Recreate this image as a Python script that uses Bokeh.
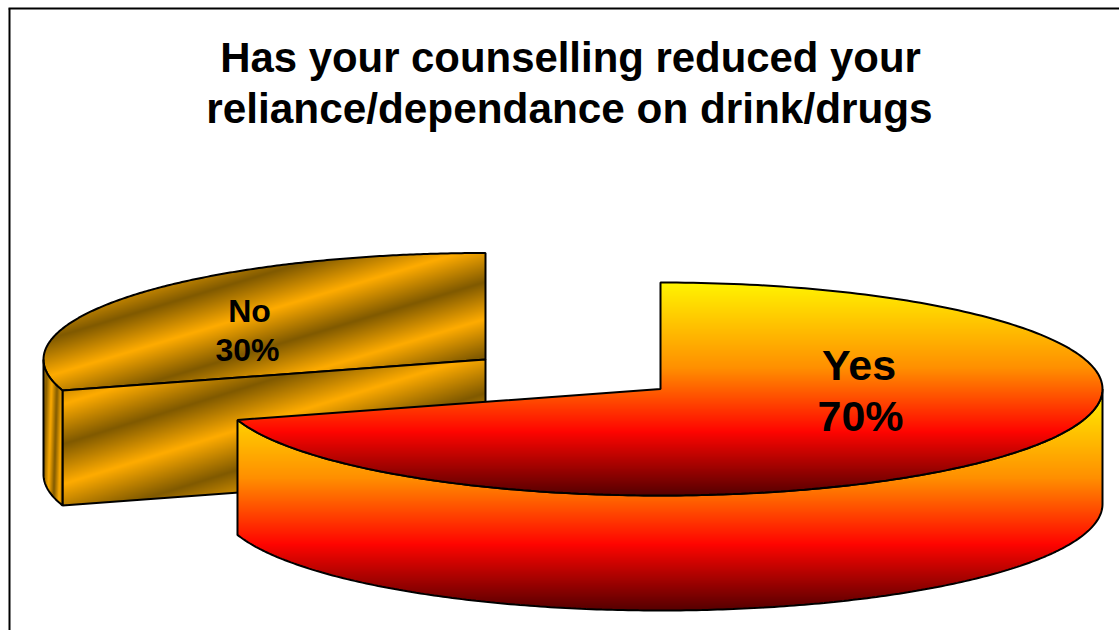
import numpy as np
from bokeh.plotting import figure
from bokeh.models import Range1d
from bokeh.core.properties import value
from bokeh.embed import file_html
from bokeh.resources import INLINE

# ---- data ----
categories = ["Yes", "No"]
values = [70, 30]
title_lines = ["Has your counselling reduced your", "reliance/dependance on drink/drugs"]

# ---- layout (picture pixels) ----
W, H = 1119, 630
PAGE_H = 630
RX, RY, DEPTH = 442, 106.5, 115
YES_C = (660, 388.5)
NO_C = (485, 359)
CUT_SHIFT = 0.02  # small angular correction of the projected cut
FIRE = [(0.0, (255, 245, 0)), (0.40, (255, 144, 0)), (0.70, (255, 5, 0)), (1.0, (85, 0, 0))]
GOLD_B = np.array([255, 172, 0.0])
GOLD_D = np.array([128, 90, 0.0])

shares = np.array(values, float) / sum(values)
yes_end = 2 * np.pi * shares[0] + CUT_SHIFT


def rim(c, a0, a1, dy=0.0, n=240):
    a = np.linspace(a0, a1, n)
    return c[0] + RX * np.sin(a), c[1] - RY * np.cos(a) + dy


def mask(px, py):
    x0, x1 = int(np.floor(px.min())), int(np.ceil(px.max()))
    y0, y1 = int(np.floor(py.min())), int(np.ceil(py.max()))
    m = np.zeros((y1 - y0, x1 - x0), bool)
    qx, qy = np.roll(px, -1), np.roll(py, -1)
    centers = np.arange(x0, x1) + 0.5
    for r, yy in enumerate(np.arange(y0, y1) + 0.5):
        hit = ((py <= yy) & (qy > yy)) | ((qy <= yy) & (py > yy))
        xs = px[hit] + (yy - py[hit]) * (qx[hit] - px[hit]) / (qy[hit] - py[hit])
        xs = np.sort(xs)
        for i in range(0, len(xs) - 1, 2):
            m[r, (centers >= xs[i]) & (centers <= xs[i + 1])] = True
    return m, x0, y0


def fire(t):
    ts = [s[0] for s in FIRE]
    return np.stack([np.interp(t, ts, [s[1][k] for s in FIRE]) for k in range(3)], -1)


def gold(f):
    # f is the phase: 0 bright, 0.5 dark
    tri = np.abs(((f + 0.5) % 1.0) - 0.5) * 2
    return GOLD_B + (GOLD_D - GOLD_B) * tri[..., None]


def Y(py):
    return PAGE_H - np.asarray(py, float)


p = figure(width=W, height=H, output_backend="svg", toolbar_location=None,
           x_range=Range1d(0, W), y_range=Range1d(0, H),
           min_border=0, outline_line_color=None, background_fill_color="white",
           border_fill_color="white")
p.axis.visible = False
p.grid.visible = False


def face(px, py, colour):
    px, py = np.asarray(px, float), np.asarray(py, float)
    m, x0, y0 = mask(px, py)
    yy, xx = np.mgrid[0:m.shape[0], 0:m.shape[1]]
    rgb = colour(xx + x0 + 0.5, yy + y0 + 0.5)
    img = np.zeros(m.shape, dtype=np.uint32)
    v = img.view(dtype=np.uint8).reshape(m.shape + (4,))
    v[..., :3] = np.clip(rgb, 0, 255).astype(np.uint8)
    v[..., 3] = m * 255
    p.image_rgba(image=[img[::-1]], x=x0, y=float(Y(y0 + m.shape[0])), dw=m.shape[1], dh=m.shape[0])
    p.patch(np.r_[px, px[0]], Y(np.r_[py, py[0]]), fill_color=None, line_color="black", line_width=2)


# No slice: top, front cut, outer wall
ax, ay = rim(NO_C, yes_end, 2 * np.pi)
face(np.r_[NO_C[0], ax], np.r_[NO_C[1], ay],
     lambda x, y: gold((y + 0.3 * (x - 300) - 300) / 74))
ex, ey = ax[0], ay[0]
face([NO_C[0], ex, ex, NO_C[0]], [NO_C[1], ey, ey + DEPTH, NO_C[1] + DEPTH],
     lambda x, y: gold((y + 0.31 * (x - 300) - 330) / 80))
wx, wy = rim(NO_C, yes_end, 1.5 * np.pi, n=40)
face(np.r_[wx, wx[::-1]], np.r_[wy, wy[::-1] + DEPTH],
     lambda x, y: gold((x + 0.03 * (y - 420) - 50) / 11))

# Yes slice: outer wall, top
wx, wy = rim(YES_C, 0.5 * np.pi, yes_end)
wall_top = YES_C[1]
wall_h = RY + DEPTH
face(np.r_[wx, wx[::-1]], np.r_[wy, wy[::-1] + DEPTH],
     lambda x, y: fire((y - wall_top) / wall_h))
ax, ay = rim(YES_C, 0, yes_end)
top_y = YES_C[1] - RY
face(np.r_[YES_C[0], ax], np.r_[YES_C[1], ay],
     lambda x, y: fire((y - top_y) / (2 * RY)))

# frame
p.line([9, 9], Y([630, 8]), line_color="black", line_width=2)
p.line([8, 1119], Y([8, 8]), line_color="black", line_width=2)


def label(x, base, s, size):
    p.text(x=[x], y=[float(Y(base - 0.31 * size))], text=[s], text_font=value("Liberation Sans"),
           text_font_style="bold", text_font_size=f"{size}px", text_color="black",
           text_align="center", text_baseline="alphabetic")


label(570, 70, title_lines[0], 41.9)
label(569, 121, title_lines[1], 42.3)
label(858.5, 378, categories[0], 43)
label(860, 429, f"{values[0]}%", 43)
label(249, 320, categories[1], 32)
label(247, 359, f"{values[1]}%", 32)

open("out.html", "w").write(file_html(p, INLINE))
